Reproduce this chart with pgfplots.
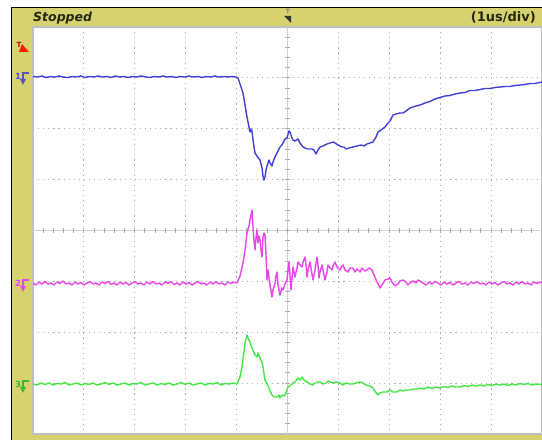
\documentclass[border=0pt]{standalone}
\usepackage{fontspec}
\setmainfont{DejaVu Sans}
\usepackage{pgfplots}
\pgfplotsset{compat=1.18}
\definecolor{scopeyellow}{RGB}{214,210,112}
\definecolor{chone}{RGB}{65,65,215}
\definecolor{chtwo}{RGB}{232,70,232}
\definecolor{chthree}{RGB}{70,232,70}
\definecolor{gridgray}{RGB}{175,175,175}
\definecolor{txtdark}{RGB}{40,40,15}
\begin{document}
\begin{tikzpicture}[x=1pt,y=1pt]
\useasboundingbox (0,0) rectangle (542,440);
\fill[white] (0,0) rectangle (542,440);
\fill[scopeyellow] (11.5,0) rectangle (542,432.5);
\draw[black,line width=1pt] (11.5,0) -- (11.5,432.5) -- (542,432.5);
% header texts
\node[anchor=base west,inner sep=0pt,font=\bfseries\itshape\fontsize{12.5}{13}\selectfont,text=txtdark] at (33,418) {Stopped};
\node[anchor=base east,inner sep=0pt,font=\bfseries\fontsize{13}{14}\selectfont,text=txtdark] at (536,418) {(1us/div)};
% trigger position marker
\node[inner sep=0pt,font=\bfseries\fontsize{6}{6}\selectfont,text=gray] at (288,428.5) {T};
\fill[black!80] (284,424) -- (291,424) -- (291,417) -- cycle;
% trigger level marker
\node[inner sep=0pt,font=\bfseries\fontsize{7}{7}\selectfont,text=red!80!black] at (19,395) {T};
\fill[red!80!orange] (19,388) -- (29,388) -- (22,396) -- cycle;
% channel markers
\node[inner sep=0pt,font=\bfseries\fontsize{8.5}{8.5}\selectfont,text=chone!70!gray] at (18,364) {1};
\draw[chone!70!gray,line width=1.2pt] (29,367) -- (23,367) -- (23,360);
\fill[chone!70!gray] (20,361) -- (26,361) -- (23,355) -- cycle;
\node[inner sep=0pt,font=\bfseries\fontsize{8.5}{8.5}\selectfont,text=chtwo] at (18,157) {2};
\draw[chtwo,line width=1.2pt] (29,160) -- (23,160) -- (23,153);
\fill[chtwo] (20,154) -- (26,154) -- (23,148) -- cycle;
\node[inner sep=0pt,font=\bfseries\fontsize{8.5}{8.5}\selectfont,text=chthree!80!black] at (18,56) {3};
\draw[chthree!80!black,line width=1.2pt] (29,59) -- (23,59) -- (23,52);
\fill[chthree!80!black] (20,53) -- (26,53) -- (23,47) -- cycle;
\begin{axis}[
  at={(33pt,6pt)}, anchor=south west,
  scale only axis, width=509pt, height=407pt,
  xmin=33, xmax=542, ymin=27, ymax=434, y dir=reverse,
  axis background/.style={fill=white},
  axis line style={draw=black!25, line width=1.2pt},
  xtick={83.9,134.8,185.7,236.6,338.4,389.3,440.2,491.1},
  ytick={77.9,128.8,179.6,281.4,332.3,383.1},
  xticklabels={}, yticklabels={},
  major tick length=0pt, tick style={draw=none},
  grid=major,
  major grid style={draw=gridgray, line width=1pt, dash pattern=on 1.2pt off 3.89pt},
  clip=true,
]
\pgfplotsextra{
  \draw[gray!35,line width=0.9pt] (axis cs:287.5,27) -- (axis cs:287.5,434);
  \draw[gray!35,line width=0.9pt] (axis cs:33,230.5) -- (axis cs:542,230.5);
  \foreach \k in {1,...,49} {
    \draw[gray!65,line width=1pt] (axis cs:{33+\k*10.18},228.3) -- (axis cs:{33+\k*10.18},232.7);
  }
  \foreach \k in {1,...,39} {
    \draw[gray!65,line width=1pt] (axis cs:285.3,{27+\k*10.175}) -- (axis cs:289.7,{27+\k*10.175});
  }
}
% CH1 (blue)
\addplot[chone, line width=1.4pt, line join=round] coordinates {
(33,76.5) (38,77) (42,76) (46,77.5) (50,76.5) (55,77) (59,76) (63,77) (68,77.5) (72,76.5) (76,77) (81,76) (85,77.5) (89,76.5) (94,77) (98,76) (102,77) (107,76.5) (111,77.5) (115,76) (120,77) (124,76.5) (128,77.5) (133,76.5) (137,77) (141,76) (146,77) (150,77.5) (154,76.5) (159,77) (163,76) (167,77) (172,76.5) (176,77.5) (180,76.5) (185,77) (189,76) (193,77) (198,76.5) (202,77.5) (206,76.5) (211,77) (215,76) (219,77) (224,76.5) (228,77) (232,76.5) (236,77) (238,78)
(240,84) (243,93) (245,105) (247,117) (249,127) (250,132) (251,129) (252,131) (253,140) (255,153) (257,156) (260,160) (262,168) (263,176) (264,180) (265,177) (266,170) (267,166) (269,160) (270,163) (272,166) (273,162) (275,157) (278,151) (280,147) (282,145) (285,139) (287,138) (289,131) (290,132) (292,138) (293,140) (295,141) (298,139) (300,143) (303,147) (305,148) (308,149) (312,149) (314,150) (316,154) (318,150) (320,147) (323,146) (327,144) (330,143) (333,142) (335,143) (338,145) (342,147) (344,147) (346,149) (349,148) (353,147) (357,146) (361,145) (364,146) (367,144) (370,143) (373,142) (376,137) (378,132) (381,130) (385,127) (388,123) (390,121) (393,115) (396,114) (400,113) (403,113) (406,111) (410,108) (413,107) (416,106) (420,105) (425,103) (430,101.5) (435,99) (440,97.5) (445,96) (450,95.5) (455,94) (460,93) (465,92.5) (470,90.5) (475,90.5) (480,89.5) (485,88.5) (490,88.5) (495,87.5) (500,87) (505,86.5) (510,86.5) (515,85.5) (520,85) (525,84.5) (530,83.5) (535,83.5) (542,82)
};
% CH2 (magenta)
\addplot[chtwo, line width=1.4pt, line join=round] coordinates {
(33,283) (36,285) (39,282) (42,284) (45,281.5) (48,284) (51,283) (54,285) (57,282) (60,283.5) (63,281) (66,284) (69,283) (72,285) (75,282) (78,284) (81,282.5) (84,285) (87,283) (90,281.5) (93,284) (96,283) (99,285) (102,282) (105,283.5) (108,281.5) (111,284.5) (114,283) (117,285) (120,282) (123,284) (126,282.5) (129,285) (132,283) (135,281.5) (138,284) (141,283) (144,285) (147,282) (150,284) (153,281.5) (156,284) (159,283) (162,285) (165,282) (168,283.5) (171,281.5) (174,284.5) (177,283) (180,285) (183,282) (186,284) (189,282.5) (192,285) (195,283) (198,281.5) (201,284) (204,283) (207,285) (210,282) (213,284) (216,281.5) (219,284) (222,283) (225,285) (228,282) (231,283.5) (234,282) (237,283)
(240,276) (243,263) (245,250) (247,233) (249,226) (250,220) (251,215) (252,210) (253,227) (254,240) (255,250) (256,238) (257,230) (258,243) (259,236) (260,240) (261,250) (262,257) (263,237) (264,233) (265,235) (266,255) (267,280) (268,270) (270,285) (272,297) (273,290) (275,283) (276,276) (277,272) (278,285) (280,295) (282,288) (283,290) (285,284) (287,280) (288,270) (289,262) (290,275) (291,290) (292,278) (293,267) (294,272) (295,277) (297,268) (298,262) (300,265) (302,267) (303,262) (305,257) (306,265) (307,277) (308,270) (310,262) (311,268) (313,280) (315,270) (317,257) (318,265) (319,278) (320,272) (322,265) (323,270) (325,280) (327,272) (328,265) (330,268) (332,270) (333,266) (335,262) (337,267) (340,270) (342,266) (343,265) (345,270) (348,272) (350,268) (353,268) (355,272) (357,269) (360,272) (362,268) (365,271) (367,270) (369,268) (372,270) (374,275) (377,282) (379,286) (380,288) (382,285) (385,280) (388,279) (390,278) (392,282) (395,286) (398,284) (400,281) (403,280) (406,282) (408,285) (410,283) (413,281) (416,283) (418,280) (420,281)
(423,283) (426,285) (429,282) (432,284) (435,281.5) (438,283) (441,285) (444,282) (447,284) (450,282.5) (453,285) (456,283) (459,281.5) (462,284) (465,283) (468,285) (471,282) (474,283.5) (477,281.5) (480,284) (483,283) (486,285) (489,282) (492,284) (495,282.5) (498,285) (501,283) (504,281.5) (507,284) (510,283) (513,285) (516,282) (519,284) (522,281.5) (525,284) (528,283) (531,285) (534,282) (537,283.5) (540,282) (542,283)
};
% CH3 (green)
\addplot[chthree, line width=1.4pt, line join=round] coordinates {
(33,384) (37,385) (41,383) (45,384.5) (49,383) (53,385) (57,383.5) (61,384) (65,382.5) (69,385) (73,384) (77,383) (81,385) (85,383.5) (89,384.5) (93,383) (97,385) (101,384) (105,382.5) (109,384.5) (113,383) (117,385) (121,384) (125,383) (129,385) (133,383.5) (137,384) (141,382.5) (145,385) (149,384) (153,383) (157,385) (161,383.5) (165,384.5) (169,383) (173,385) (177,384) (181,382.5) (185,384.5) (189,383) (193,385) (197,384) (201,383) (205,385) (209,383.5) (213,384) (217,382.5) (221,385) (225,383.5) (229,384) (233,383) (237,384)
(240,377) (242,367) (244,352) (245,343) (247,335) (248,338) (250,342) (252,348) (253,350) (255,355) (257,357) (258,353) (260,358) (262,362) (263,367) (264,374) (265,380) (267,384) (268,385) (270,391) (272,395) (274,397) (277,397) (279,395) (280,398) (282,395) (284,396) (285,395) (287,390) (288,387) (290,386) (293,383) (295,382) (298,378) (300,380) (302,377) (304,380) (307,382) (310,384) (313,385) (315,383) (318,382) (320,382) (323,384) (326,383) (328,381) (330,382) (333,383) (336,382) (340,383) (343,385) (346,383) (350,384) (353,384) (356,383) (360,382) (363,383) (366,385) (370,386) (373,388) (375,391) (378,395) (380,393) (383,392) (387,392) (390,390) (393,392) (397,392) (400,390) (403,391) (407,390) (410,390) (414,389) (417,389) (420,388)
(424,389) (428,387) (432,388.5) (436,387) (440,388) (444,386.5) (448,387.5) (452,386) (456,387) (460,387) (464,385.5) (468,386.5) (472,385) (476,386) (480,385) (484,386) (488,384.5) (492,385.5) (496,384) (500,385) (504,384) (508,385.5) (512,384) (516,385) (520,383.5) (524,384.5) (528,383.5) (532,385) (536,384) (540,384.5) (542,384)
};
\end{axis}
\end{tikzpicture}
\end{document}
